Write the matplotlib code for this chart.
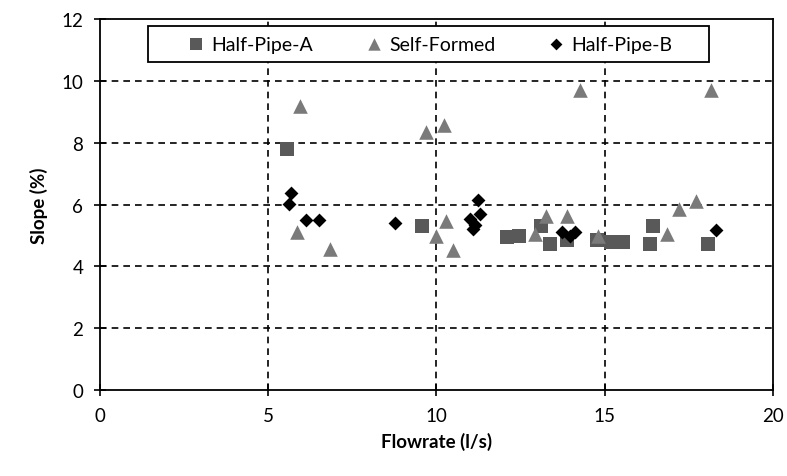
import matplotlib

matplotlib.use("Agg")
import matplotlib.pyplot as plt
from matplotlib.patches import Rectangle

plt.rcParams["font.family"] = ["Lato", "DejaVu Sans"]

# Half-Pipe-A (squares)
hpa_x = [5.55, 9.56, 12.1, 12.45, 13.12, 13.37, 13.87, 14.76, 15.2, 15.55, 16.44, 16.34, 18.08]
hpa_y = [7.8, 5.3, 4.95, 5.0, 5.32, 4.72, 4.84, 4.85, 4.8, 4.8, 5.32, 4.72, 4.72]

# Self-Formed (triangles)
sf_x = [5.94, 5.85, 6.84, 9.69, 10.22, 10.28, 10.0, 10.48, 12.93, 13.27, 13.87,
        14.26, 14.8, 16.84, 17.22, 17.73, 18.15]
sf_y = [9.2, 5.1, 4.56, 8.36, 8.58, 5.48, 4.99, 4.54, 5.05, 5.64, 5.64,
        9.69, 4.99, 5.05, 5.86, 6.1, 9.69]

# Half-Pipe-B (diamonds)
hpb_x = [5.67, 5.63, 6.12, 6.52, 8.77, 11.25, 11.3, 11.0, 11.15, 11.1, 13.72, 13.97, 14.12, 18.31]
hpb_y = [6.38, 6.02, 5.51, 5.51, 5.4, 6.15, 5.7, 5.55, 5.35, 5.2, 5.1, 4.99, 5.1, 5.19]


def main():
    fig = plt.figure(figsize=(7.87, 4.77), dpi=100, facecolor="white")
    ax = fig.add_axes([0.127, 0.180, 0.855, 0.778])

    ax.scatter(hpa_x, hpa_y, marker="s", s=95, color="#595959", linewidths=0,
               label="Half-Pipe-A", zorder=3)
    ax.scatter(sf_x, sf_y, marker="^", s=110, color="#7a7a7a", linewidths=0,
               label="Self-Formed", zorder=3)
    ax.scatter(hpb_x, hpb_y, marker="D", s=50, color="black", linewidths=0,
               label="Half-Pipe-B", zorder=4)

    ax.set_xlim(0, 20)
    ax.set_ylim(0, 12)
    ax.set_xticks([0, 5, 10, 15, 20])
    ax.set_yticks(range(0, 13, 2))
    ax.tick_params(direction="inout", length=8, width=1.2, labelsize=13.5, pad=8)

    for v in [5, 10, 15]:
        ax.axvline(v, color="black", lw=1.2, ls=(0, (4, 3)), zorder=1)
    for v in range(2, 12, 2):
        ax.axhline(v, color="black", lw=1.2, ls=(0, (4, 3)), zorder=1)

    for s in ax.spines.values():
        s.set_linewidth(1.3)

    ax.set_xlabel("Flowrate (l/s)", fontsize=13.5, fontweight="bold", labelpad=6)
    ax.set_ylabel("Slope (%)", fontsize=13.5, fontweight="bold", labelpad=10)

    # legend box drawn by hand so the padding matches the original
    ax.add_patch(Rectangle((0.071, 0.884), 0.834, 0.097, transform=ax.transAxes,
                           facecolor="white", edgecolor="black", lw=1.3, zorder=5))
    ax.legend(loc="center", bbox_to_anchor=(0.488, 0.9325), ncol=3,
              fontsize=14, frameon=False, handletextpad=0.2,
              handlelength=1.2, columnspacing=2.5, markerscale=0.85).set_zorder(6)

    fig.savefig("out.png", dpi=100, facecolor="white")


if __name__ == "__main__":
    main()
